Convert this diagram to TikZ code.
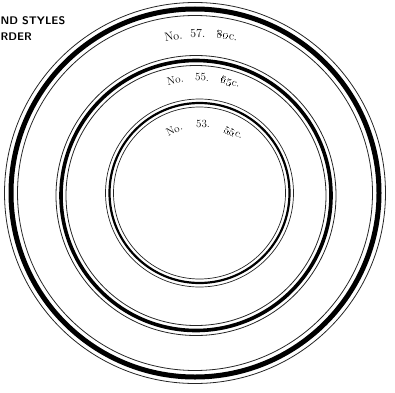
\documentclass[tikz,border=0pt]{standalone}
\usepackage{tikz}
\usetikzlibrary{calc}

\begin{document}
\begin{tikzpicture}[
  x=1pt, y=1pt,
  every node/.style={inner sep=0pt},
  rim/.style={draw=black!85, line width=0.8pt},
  band/.style={draw=black},
  sizelbl/.style={font=\fontsize{11}{13}\selectfont, anchor=base},
  heading/.style={font=\sffamily\bfseries\fontsize{11}{13}\selectfont, anchor=base west},
]
  \useasboundingbox (0,0) rectangle (395,392);

  % centres of the rings
  \coordinate (o57) at (195,199);
  \coordinate (o55) at (196,196.5);
  \coordinate (o53) at (199.5,199);

  % No. 57
  \draw[band, line width=5pt] (o57) circle[radius=184];
  \draw[rim] (o57) circle[radius=190.5];
  \draw[rim] (o57) circle[radius=177.5];
  % No. 55
  \draw[band, line width=3.6pt] (o55) circle[radius=135];
  \draw[rim] (o55) circle[radius=140];
  \draw[rim] (o55) circle[radius=130];
  % No. 53
  \draw[band, line width=2.2pt] (o53) circle[radius=90];
  \draw[rim, line width=0.7pt] (o53) circle[radius=94];
  \draw[rim, line width=0.7pt] (o53) circle[radius=86];

  % curved labels
  \coordinate (t57) at (203,194.5);
  \node[sizelbl, font=\fontsize{12}{14}\selectfont, rotate=10.4] (no57) at ($(t57)+(100.4:160)$) {No.};
  \node[sizelbl, font=\fontsize{12}{14}\selectfont, rotate=1.8] (num57) at ($(t57)+(91.8:160)$) {57.};
  \node[sizelbl, font=\fontsize{12}{14}\selectfont, rotate=-8.6] (price57) at ($(t57)+(81.4:160)$) {\oldstylenums{80}c.};

  \coordinate (t55) at (200,196);
  \node[sizelbl, rotate=12.05] (no55) at ($(t55)+(102.05:115)$) {No.};
  \node[sizelbl, rotate=-1] (num55) at ($(t55)+(89:115)$) {55.};
  \node[sizelbl, rotate=-15.1] (price55) at ($(t55)+(74.9:115)$) {\oldstylenums{65}c.};

  \coordinate (t53) at (203,203);
  \node[sizelbl, rotate=26] (no53) at ($(t53)+(116:62)$) {No.};
  \node[sizelbl] (num53) at ($(t53)+(90:62)$) {53.};
  \node[sizelbl, rotate=-29] (price53) at ($(t53)+(61:62)$) {\oldstylenums{55}c.};

  % cut-off heading
  \node[heading] (styles) at (0.5,367) {ND STYLES};
  \node[heading] (order) at (0.5,352) {RDER};
\end{tikzpicture}
\end{document}
